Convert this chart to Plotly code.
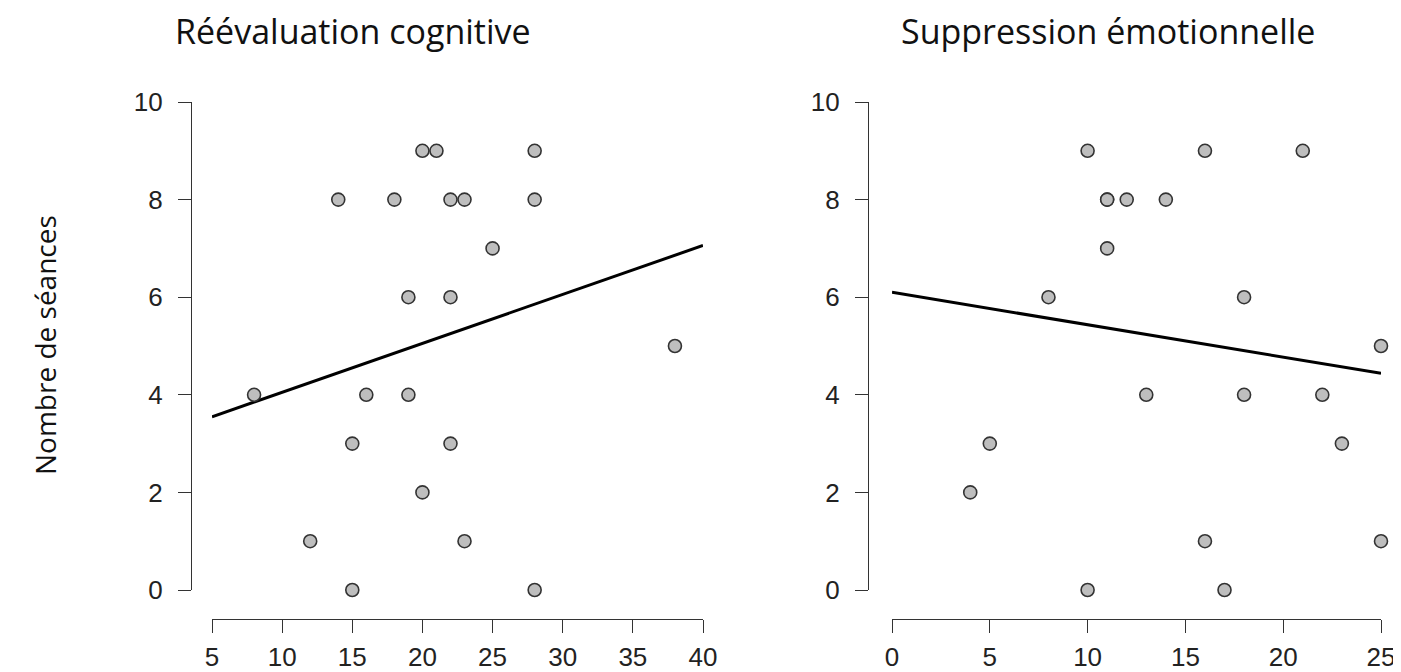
import plotly.graph_objects as go

# Left panel: Réévaluation cognitive
reeval_x = [8, 12, 14, 15, 15, 16, 18, 19, 19, 20, 20, 21, 22, 22, 22, 23, 23, 25, 28, 28, 28, 38]
reeval_y = [4, 1, 8, 3, 0, 4, 8, 6, 4, 9, 2, 9, 8, 6, 3, 8, 1, 7, 9, 8, 0, 5]
reeval_fit_x = [5, 40]
reeval_fit_y = [3.55, 7.06]

# Right panel: Suppression émotionnelle
supp_x = [4, 5, 8, 10, 10, 11, 11, 11, 12, 13, 14, 16, 16, 17, 18, 18, 21, 22, 23, 25, 25]
supp_y = [2, 3, 6, 9, 0, 8, 8, 7, 8, 4, 8, 9, 1, 0, 6, 4, 9, 4, 3, 5, 1]
supp_fit_x = [0, 25]
supp_fit_y = [6.1, 4.44]

reeval_ticks = [5, 10, 15, 20, 25, 30, 35, 40]
supp_ticks = [0, 5, 10, 15, 20, 25]
y_ticks = [0, 2, 4, 6, 8, 10]

titles = ["Réévaluation cognitive", "Suppression émotionnelle"]
y_title = "Nombre de séances"

W, H = 1401, 672
OFF = 8  # page body margin offset
def px(x):
    return (x - OFF) / W
def py(y):
    return 1 - (y - OFF) / H

marker = dict(size=13, color="#bebebe", line=dict(color="#333333", width=1.6))
line = dict(color="black", width=3)

fig = go.Figure()
fig.add_trace(go.Scatter(x=reeval_fit_x, y=reeval_fit_y, mode="lines", line=line,
                         xaxis="x", yaxis="y", cliponaxis=False, hoverinfo="skip"))
fig.add_trace(go.Scatter(x=reeval_x, y=reeval_y, mode="markers", marker=marker,
                         xaxis="x", yaxis="y", cliponaxis=False))
fig.add_trace(go.Scatter(x=supp_fit_x, y=supp_fit_y, mode="lines", line=line,
                         xaxis="x2", yaxis="y2", cliponaxis=False, hoverinfo="skip"))
fig.add_trace(go.Scatter(x=supp_x, y=supp_y, mode="markers", marker=marker,
                         xaxis="x2", yaxis="y2", cliponaxis=False))

tickfont = dict(family="Liberation Sans, Arial", size=26, color="#222222")
common = dict(showgrid=False, zeroline=False, showline=True, linecolor="#333333",
              linewidth=1.4, ticks="outside", ticklen=13, tickwidth=1.4,
              tickcolor="#333333", tickfont=tickfont, automargin=False)

ydom = [py(590), py(102)]
fig.update_layout(
    width=W, height=H, margin=dict(l=0, r=0, t=0, b=0, pad=0, autoexpand=False),
    paper_bgcolor="white", plot_bgcolor="white", showlegend=False,
    xaxis=dict(domain=[px(212), px(703)], range=[5, 40], tickvals=reeval_ticks,
               anchor="free", position=py(619), ticklabelstandoff=2, **common),
    yaxis=dict(domain=ydom, range=[0, 10], tickvals=y_ticks,
               anchor="free", position=px(191), ticklabelstandoff=10, **common),
    xaxis2=dict(domain=[px(892), px(1381)], range=[0, 25], tickvals=supp_ticks,
                anchor="free", position=py(619), ticklabelstandoff=2, **common),
    yaxis2=dict(domain=ydom, range=[0, 10], tickvals=y_ticks,
                anchor="free", position=px(868), ticklabelstandoff=10, **common),
)

titlefont = dict(family="Open Sans", size=34, color="#111111")
fig.add_annotation(text=titles[0], x=px(353), y=py(31), xref="paper", yref="paper",
                   showarrow=False, font=titlefont, xanchor="center", yanchor="middle")
fig.add_annotation(text=titles[1], x=px(1108), y=py(31), xref="paper", yref="paper",
                   showarrow=False, font=titlefont, xanchor="center", yanchor="middle")
fig.add_annotation(text=y_title, x=px(45), y=py(345), xref="paper", yref="paper",
                   showarrow=False, font=dict(family="Open Sans", size=28, color="#111111"),
                   textangle=-90, xanchor="center", yanchor="middle")

fig.write_html("out.html")
